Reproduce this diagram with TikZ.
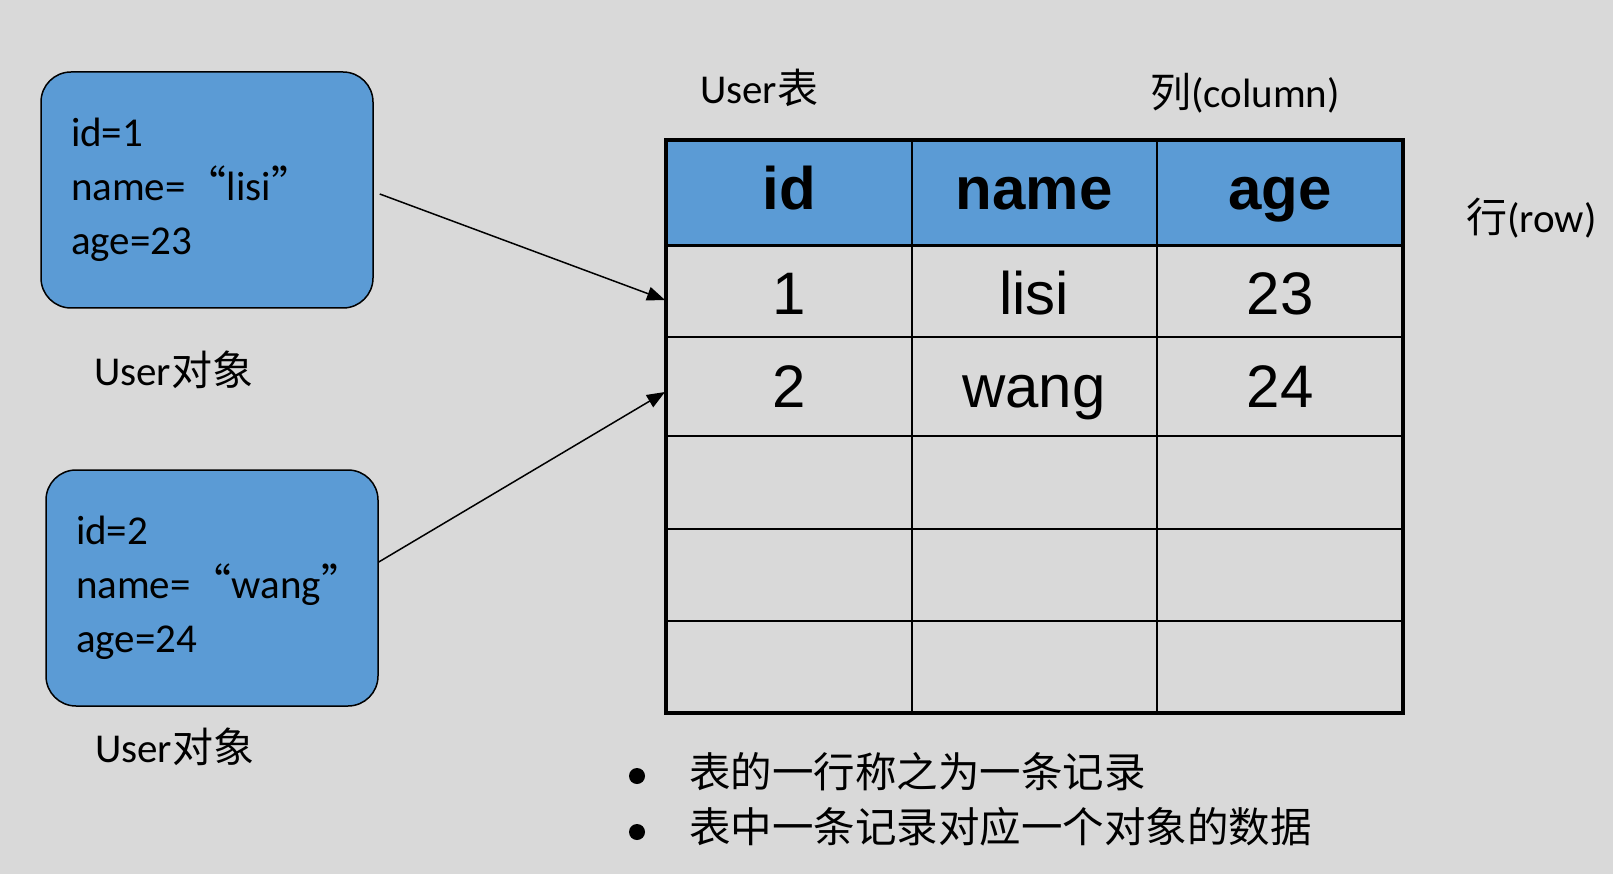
\documentclass[tikz,border=0pt]{standalone}
\usepackage{fontspec}
\setmainfont{Carlito}
\newfontfamily\cjk{Noto Sans CJK SC}
\newfontfamily\arial{Liberation Sans}
\usetikzlibrary{arrows.meta}
\definecolor{objblue}{HTML}{5B9BD5}
\definecolor{bggray}{HTML}{D9D9D9}

\begin{document}
\begin{tikzpicture}[x=1pt, y=-1pt,
	obj/.style={draw, line width=1.5, fill=objblue, rounded corners=30, minimum width=332, minimum height=236, inner xsep=30, text width=272, align=left, font=\fontsize{41}{54}\selectfont},
	lbl/.style={anchor=base west, inner sep=0, font=\fontsize{41}{48}\selectfont},
	head/.style={anchor=base, inner sep=0, font=\arial\bfseries\fontsize{60}{60}\selectfont},
	cell/.style={anchor=base, inner sep=0, font=\arial\fontsize{60}{60}\selectfont},
	link/.style={line width=1.5pt, -{Triangle[length=18pt, width=14pt]}}]
	\fill[bggray] (0,0) rectangle (1613,874);
	\useasboundingbox (0,0) rectangle (1613,874);

	% objects
	\node[obj] (u1) at (207,190) {id=1\\name={\cjk “}lisi{\cjk ”}\\age=23};
	\node[obj] (u2) at (212,588) {id=2\\name={\cjk “}wang{\cjk ”}\\age=24};
	\node[lbl] (l1) at (94,385) {User{\cjk 对象}};
	\node[lbl] (l2) at (95,762) {User{\cjk 对象}};

	% table
	\fill[objblue] (666,140) rectangle (1403,246);
	\foreach \x in {912,1157} \draw[line width=2] (\x,140) -- (\x,713);
	\foreach \y in {337,436,529,621} \draw[line width=2.5] (666,\y) -- (1403,\y);
	\draw[line width=3] (666,246) -- (1403,246);
	\draw[line width=4.5] (666,140) rectangle (1403,713);
	\node[head] (hid) at (789,210) {id};
	\node[head] (hname) at (1034,210) {name};
	\node[head] (hage) at (1280,210) {age};
	\node[cell] (c11) at (789,315) {1};
	\node[cell] (c12) at (1034,315) {lisi};
	\node[cell] (c13) at (1280,315) {23};
	\node[cell] (c21) at (789,407) {2};
	\node[cell] (c22) at (1034,407) {wang};
	\node[cell] (c23) at (1280,407) {24};
	\node[lbl] (tname) at (700,104) {User{\cjk 表}};
	\node[lbl] (col) at (1150,108) {{\cjk 列}(column)};
	\node[lbl] (row) at (1466,233) {{\cjk 行}(row)};

	% links
	\coordinate (t1) at (665,300);
	\coordinate (t2) at (665,392);
	\draw[link] ([shift={(6,4)}]u1.east) -- (t1);
	\draw[link] ([shift={(0,-26)}]u2.east) -- (t2);

	% notes
	\node[circle, fill, inner sep=0, minimum size=16] (b1) at (637,776) {};
	\node[circle, fill, inner sep=0, minimum size=16] (b2) at (637,832) {};
	\node[lbl, font=\cjk\fontsize{41.5}{48}\selectfont] (n1) at (689,787) {表的一行称之为一条记录};
	\node[lbl, font=\cjk\fontsize{41.5}{48}\selectfont] (n2) at (689,842) {表中一条记录对应一个对象的数据};
\end{tikzpicture}
\end{document}
